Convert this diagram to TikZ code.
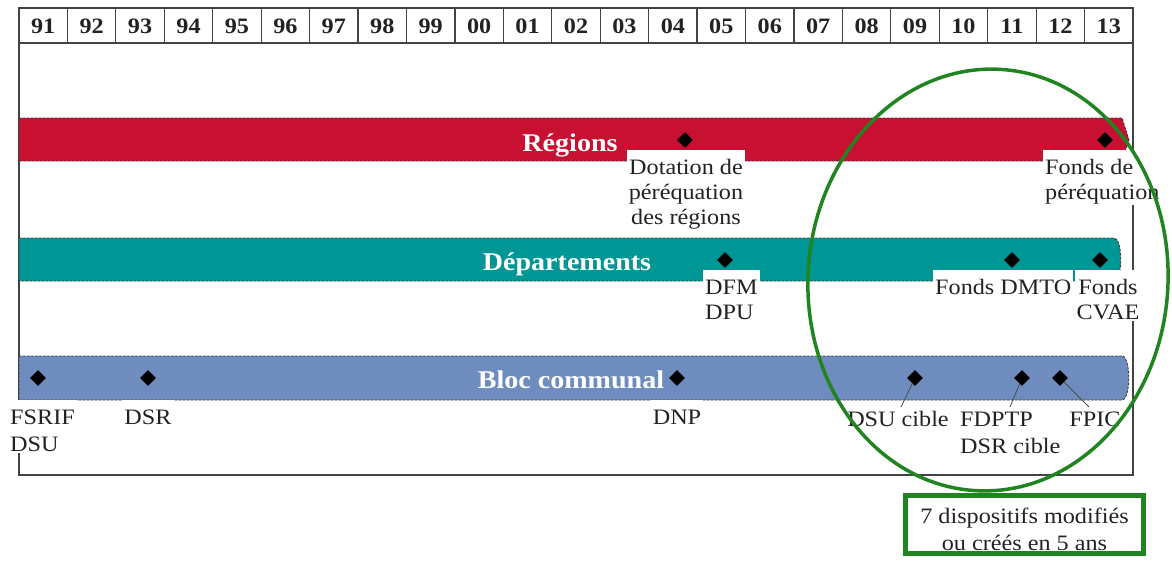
\documentclass[tikz,border=0pt]{standalone}
\usepackage{fontspec}
\setmainfont{Liberation Serif}[FakeStretch=1.1]
\usetikzlibrary{shapes.geometric}
\definecolor{regred}{RGB}{200,16,50}
\definecolor{depteal}{RGB}{0,150,150}
\definecolor{comblue}{RGB}{110,141,190}
\definecolor{ringgreen}{RGB}{32,132,32}
\definecolor{ink}{RGB}{34,34,34}
% invisible strut that leaves white room above the first line of a label
\newcommand\liftline{\rule{0pt}{23.5pt}}

\begin{document}
\begin{tikzpicture}[x=1pt,y=-1pt,
  frameline/.style={draw=ink!85, line width=1.2pt},
  band/.style={draw=ink!90, line width=0.9pt, dash pattern=on 2.5pt off 1.5pt},
  milestone/.style={diamond, fill=black, inner sep=0pt, minimum width=16pt, minimum height=16pt},
  tag/.style={fill=white, inner xsep=2pt, inner ysep=1pt, text=ink,
    font=\fontsize{22}{25}\selectfont},
  tagwide/.style={tag, font=\fontsize{22}{27}\selectfont},
  bandtitle/.style={text=white, anchor=base, font=\bfseries\fontsize{25.5}{28}\selectfont},
  year/.style={text=ink, font=\bfseries\fontsize{22}{24}\selectfont},
  link/.style={draw=ink!80, line width=0.8pt},
]
\useasboundingbox (0,0) rectangle (1172,560);

% year header and frame
\draw[frameline] (19,8) rectangle (1133,43);
\foreach \k in {1,...,22}
  \draw[frameline] ({19+\k*48.435},8) -- ({19+\k*48.435},43);
\foreach \k/\yr in {0/91,1/92,2/93,3/94,4/95,5/96,6/97,7/98,8/99,9/00,10/01,
                    11/02,12/03,13/04,14/05,15/06,16/07,17/08,18/09,19/10,20/11,21/12,22/13}
  \node[year] (y\k) at ({19+(\k+0.5)*48.435},26) {\yr};
\draw[frameline] (19,43) -- (19,475) -- (1133,475) -- (1133,43);

% the three bands
\path[band, fill=regred] (19,118) -- (1122,118) -- (1129,140) -- (1122,161) -- (19,161) -- cycle;
\path[band, fill=depteal] (19,238) -- (1114,238) .. controls (1123,238) and (1123,281) .. (1114,281) -- (19,281) -- cycle;
\path[band, fill=comblue] (19,356) -- (1122,356) .. controls (1131,356) and (1131,400) .. (1122,400) -- (19,400) -- cycle;

\node[bandtitle] (treg) at (570,151) {Régions};
\node[bandtitle] (tdep) at (567,270) {Départements};
\node[bandtitle] (tcom) at (571,388) {Bloc communal};

% labels under the bands
\node[tag, anchor=north, align=center] (dotreg) at (686,150) {\liftline Dotation de\\péréquation\\des régions};
\node[tag, anchor=north west, align=left] (fondsper) at (1043,150) {\liftline Fonds de\\péréquation};
\node[tag, anchor=north west, align=left] (dfm) at (703,270) {\liftline DFM\\DPU};
\node[tag, anchor=north west] (dmto) at (933,270) {\liftline Fonds DMTO};
\node[tag, anchor=north, align=center] (cvae) at (1108,270) {\liftline Fonds\\CVAE};
\node[tagwide, anchor=north west, align=left] (fsrif) at (8,400) {\liftline FSRIF\\DSU};
\node[tag, anchor=north] (dsr) at (148,400) {\liftline DSR};
\node[tag, anchor=north] (dnp) at (677,400) {\liftline DNP};
\node[tag, anchor=north] (dsuc) at (898,402) {\liftline DSU cible};
\node[tagwide, anchor=north west, align=left] (fdptp) at (958,402) {\liftline FDPTP\\DSR cible};
\node[tag, anchor=north] (fpic) at (1095,402) {\liftline FPIC};

% leader lines
\coordinate (dsuc-end) at (901,407);
\coordinate (fdptp-end) at (1010,407);
\coordinate (fpic-end) at (1089,407);

% milestones
\node[milestone] (r04) at (685,140) {};
\node[milestone] (r13) at (1105,140) {};
\node[milestone] (d05) at (725,260) {};
\node[milestone] (d11) at (1012,260) {};
\node[milestone] (d13) at (1100,260) {};
\node[milestone] (c91) at (38,378) {};
\node[milestone] (c93) at (148,378) {};
\node[milestone] (c04) at (677,378) {};
\node[milestone] (c09) at (915,378) {};
\node[milestone] (c11) at (1022,378) {};
\node[milestone] (c12) at (1060,378) {};

\draw[link] (c09) -- (dsuc-end);
\draw[link] (c11) -- (fdptp-end);
\draw[link] (c12) -- (fpic-end);

% highlight of the last five years
\draw[ringgreen, line width=3.5pt, rotate around={-3.5:(988,280)}]
  (988,280) ellipse [x radius=180pt, y radius=211pt];
\node[draw=ringgreen, line width=5pt, minimum width=238pt, minimum height=58pt] (summary)
  at (1024.5,524.5) {};
\node[align=center, text=ink, font=\fontsize{22}{27}\selectfont] (summarytext)
  at (1024.5,529) {7 dispositifs modifiés\\ou créés en 5 ans};
\end{tikzpicture}
\end{document}
